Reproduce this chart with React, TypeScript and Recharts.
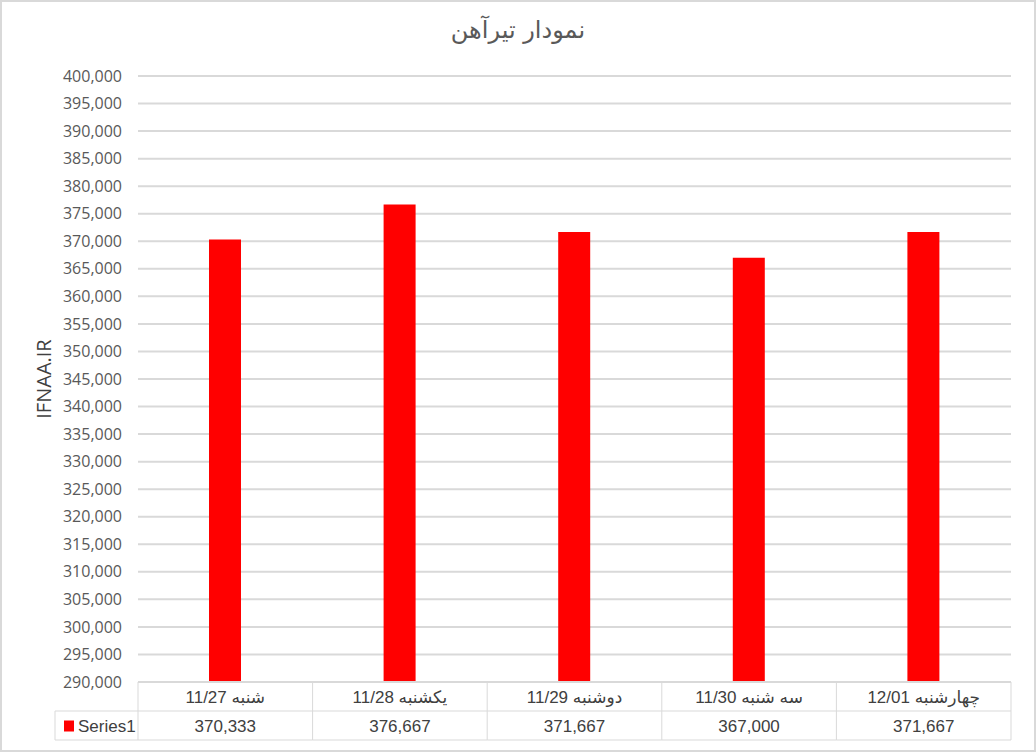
import { BarChart, Bar, XAxis, YAxis, CartesianGrid } from "recharts"

const categories = ["شنبه 11/27", "یکشنبه 11/28", "دوشنبه 11/29", "سه شنبه 11/30", "چهارشنبه 12/01"]
const series1 = [370333, 376667, 371667, 367000, 371667]
const yTicks = [
  290000, 295000, 300000, 305000, 310000, 315000, 320000, 325000, 330000, 335000, 340000, 345000,
  350000, 355000, 360000, 365000, 370000, 375000, 380000, 385000, 390000, 395000, 400000,
]

const data = categories.map((day, i) => ({ day, Series1: series1[i] }))

const fmt = (v: number) => v.toLocaleString("en-US")
const grid = "#d9d9d9"
const tableFont = "'Liberation Sans', 'DejaVu Sans', sans-serif"
const rowH = 29

function TableTick(props: any) {
  const { x, y, index, width } = props
  const n = categories.length
  const cw = (width || 873) / n
  const left = x - cw / 2
  const right = x + cw / 2
  return (
    <g>
      <line x1={left} y1={y} x2={left} y2={y + 2 * rowH} stroke={grid} />
      {index === n - 1 && <line x1={right} y1={y} x2={right} y2={y + 2 * rowH} stroke={grid} />}
      <line x1={left} y1={y + rowH} x2={right} y2={y + rowH} stroke={grid} />
      <line x1={left} y1={y + 2 * rowH} x2={right} y2={y + 2 * rowH} stroke={grid} />
      <text
        x={x}
        y={y + rowH / 2 + 1}
        direction="rtl"
        textAnchor="middle"
        dominantBaseline="central"
        fontSize={17}
        fontFamily={tableFont}
        fill="#404040"
      >
        {categories[index]}
      </text>
      <text
        x={x}
        y={y + rowH * 1.5 + 1}
        textAnchor="middle"
        dominantBaseline="central"
        fontSize={17}
        fontFamily={tableFont}
        fill="#404040"
      >
        {fmt(series1[index])}
      </text>
      {index === 0 && (
        <g>
          <line x1={left - 83} y1={y + rowH} x2={left} y2={y + rowH} stroke={grid} />
          <line x1={left - 83} y1={y + 2 * rowH} x2={left} y2={y + 2 * rowH} stroke={grid} />
          <line x1={left - 83} y1={y + rowH} x2={left - 83} y2={y + 2 * rowH} stroke={grid} />
          <rect x={left - 74} y={y + rowH * 1.5 - 5} width={10} height={11} fill="#ff0000" />
          <text
            x={left - 60}
            y={y + rowH * 1.5 + 1}
            dominantBaseline="central"
            fontSize={17}
            fontFamily={tableFont}
            fill="#404040"
          >
            Series1
          </text>
        </g>
      )}
    </g>
  )
}

function YLabel(props: any) {
  const vb = props.viewBox || { x: 0, y: 74, width: 136, height: 606 }
  const cx = vb.x + 41
  const cy = vb.y + vb.height / 2
  return (
    <text
      x={cx}
      y={cy}
      transform={`rotate(-90, ${cx}, ${cy})`}
      textAnchor="middle"
      dominantBaseline="central"
      fontSize={20}
      fontFamily="'Open Sans', sans-serif"
      fill="#404040"
    >
      IFNAA.IR
    </text>
  )
}

export default function App() {
  return (
    <div
      style={{
        position: "absolute",
        left: 0,
        top: 0,
        width: 1036,
        height: 752,
        boxSizing: "border-box",
        border: "2px solid #d9d9d9",
        background: "#fff",
      }}
    >
      <div
        style={{
          position: "absolute",
          left: 0,
          top: 14,
          width: 1032,
          textAlign: "center",
          fontFamily: "'DejaVu Sans', sans-serif",
          fontSize: 24,
          color: "#595959",
        }}
      >
        نمودار تیرآهن
      </div>
      <BarChart
        width={1032}
        height={748}
        data={data}
        margin={{ top: 74, right: 23, bottom: 10, left: 0 }}
      >
        <CartesianGrid vertical={false} stroke={grid} strokeWidth={2} />
        <XAxis
          dataKey="day"
          height={58}
          interval={0}
          tickLine={false}
          tickSize={0}
          tickMargin={0}
          axisLine={{ stroke: grid, strokeWidth: 2 }}
          tick={<TableTick />}
        />
        <YAxis
          width={136}
          domain={[290000, 400000]}
          ticks={yTicks}
          interval={0}
          allowDataOverflow
          tickFormatter={fmt}
          axisLine={false}
          tickLine={false}
          tickSize={0}
          tickMargin={16}
          tick={{ fill: "#595959", fontSize: 16, fontFamily: "'Open Sans', sans-serif" }}
          label={<YLabel />}
        />
        <Bar dataKey="Series1" fill="#ff0000" barSize={32} isAnimationActive={false} />
      </BarChart>
    </div>
  )
}
